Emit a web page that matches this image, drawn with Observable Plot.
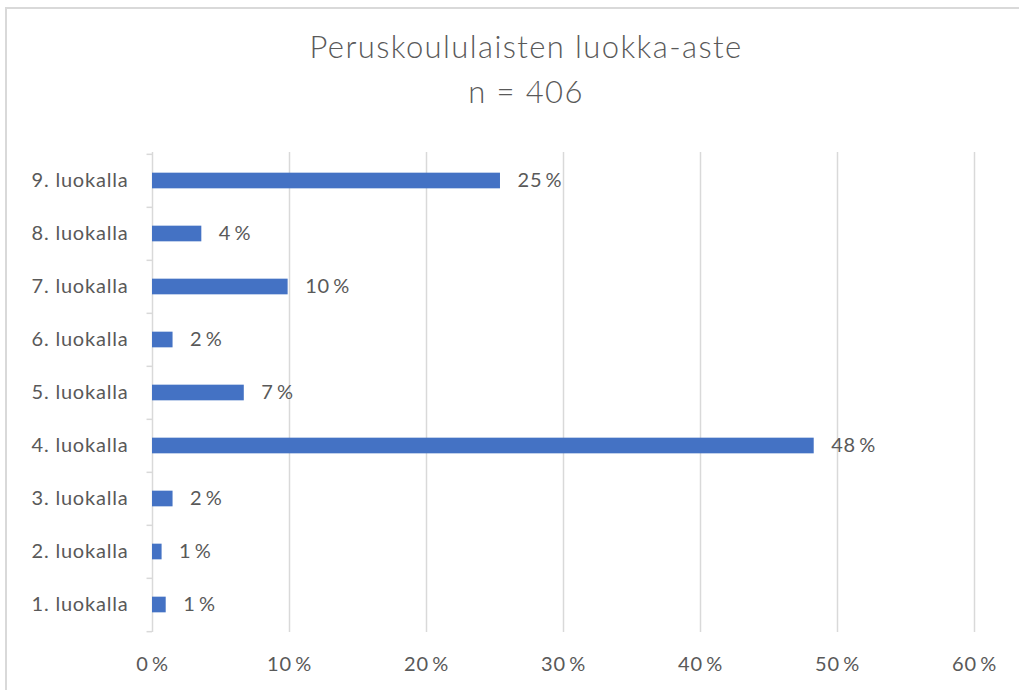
<!DOCTYPE html>
<html><head><meta charset="utf-8">
<script src="https://cdn.jsdelivr.net/npm/d3@7"></script>
<script src="https://cdn.jsdelivr.net/npm/@observablehq/plot@0.6"></script>
<style>
body{margin:0;width:1019px;height:690px;overflow:hidden;background:#fff;font-family:Lato,"Open Sans",sans-serif;position:relative}
#frame{position:absolute;left:5px;top:7px;width:1100px;height:800px;border:2px solid #d9d9d9;box-sizing:border-box}
#title{position:relative;height:140px;width:1052px;color:#595959;font-size:31px;font-weight:300;letter-spacing:1.4px}
#title div{position:absolute;left:0;right:0;text-align:center;white-space:nowrap}
#chart{position:relative}
#chart svg text{letter-spacing:0.8px}
</style></head><body>
<div id="frame"></div>
<div id="title"><div style="top:27px">Peruskoululaisten luokka-aste</div><div style="top:72px">n = 406</div></div>
<div id="chart"></div>
<script>
const categories = ["9. luokalla","8. luokalla","7. luokalla","6. luokalla","5. luokalla","4. luokalla","3. luokalla","2. luokalla","1. luokalla"];
const values = [25.4, 3.6, 9.9, 1.5, 6.7, 48.3, 1.5, 0.7, 1.0];
const xTicks = [0, 10, 20, 30, 40, 50, 60];

const data = categories.map((c, i) => ({grade: c, value: values[i], label: Math.round(values[i]) + "\u2009%"}));
const H = 550, MT = 12, MB = 58;
const bw = (H - MT - MB) / categories.length;
const barH = 16;
const grey = "#d9d9d9";
const font = "Lato, 'Open Sans', sans-serif";

const chart = Plot.plot({
  width: 1019, height: H,
  marginTop: MT, marginBottom: MB, marginLeft: 152, marginRight: 45,
  style: {fontFamily: font, fontSize: "20px", color: "#595959", background: "transparent"},
  x: {domain: [0, 60]},
  y: {domain: categories, padding: 0},
  marks: [
    Plot.gridX(xTicks.slice(1), {stroke: grey, strokeOpacity: 1, strokeWidth: 1.5}),
    Plot.ruleX([0], {stroke: grey, strokeWidth: 1.5}),
    Plot.ruleY(categories, {y: d => d, x1: -0.4, x2: 0, dy: -bw / 2, stroke: grey, strokeWidth: 1.5}),
    Plot.ruleY(categories.slice(-1), {y: d => d, x1: -0.4, x2: 0, dy: bw / 2, stroke: grey, strokeWidth: 1.5}),
    Plot.barX(data, {x: "value", y: "grade", fill: "#4472C4", insetTop: (bw - barH) / 2, insetBottom: (bw - barH) / 2}),
    Plot.text(data, {x: "value", y: "grade", text: "label", dx: 17, textAnchor: "start", fill: "#595959", fontSize: 20}),
    Plot.axisX({ticks: xTicks, tickFormat: d => d + "\u2009%", tickSize: 0, tickPadding: 24, fontSize: 20, fill: "#595959", label: null}),
    Plot.axisY({tickSize: 0, tickPadding: 24, fontSize: 20, fill: "#595959", label: null})
  ]
});
document.getElementById("chart").appendChild(chart);
</script>
</body></html>
